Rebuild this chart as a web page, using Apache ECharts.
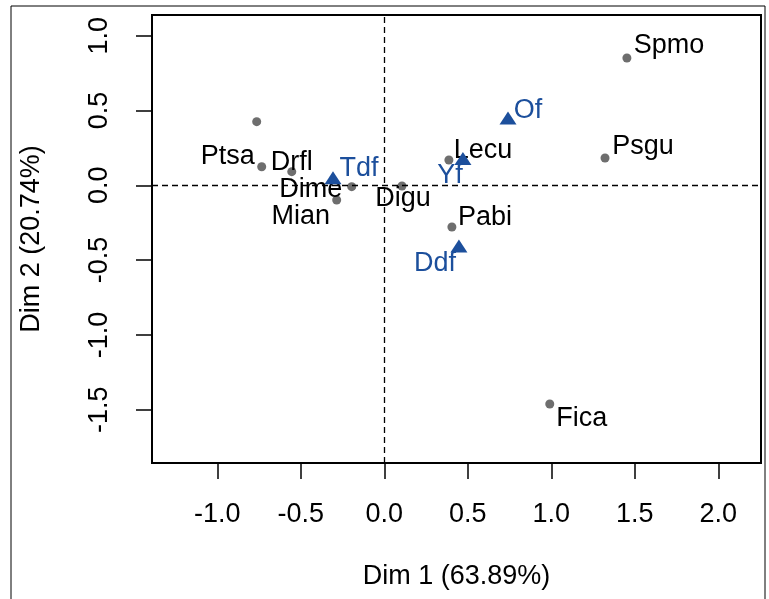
<!DOCTYPE html>
<html>
<head>
<meta charset="utf-8">
<title>CA biplot</title>
<script src="https://cdn.jsdelivr.net/npm/echarts@6.0.0/dist/echarts.min.js"></script>
<style>
html, body { margin: 0; padding: 0; background: #fff; }
#main { width: 769px; height: 599px; }
</style>
</head>
<body>
<div id="main"></div>
<script>
// species (grey dots)
var speciesNames = ['', 'Ptsa', 'Drfl', 'Dime', 'Mian', 'Digu', 'Lecu', 'Spmo', 'Psgu', 'Pabi', 'Fica'];
var speciesX = [-0.764, -0.734, -0.554, -0.195, -0.285, 0.106, 0.387, 1.453, 1.322, 0.405, 0.991];
var speciesY = [0.425, 0.124, 0.091, -0.009, -0.098, -0.005, 0.169, 0.851, 0.182, -0.279, -1.462];

// sites (blue triangles)
var siteNames = ['Tdf', 'Yf', 'Of', 'Ddf'];
var siteX = [-0.307, 0.471, 0.741, 0.447];
var siteY = [0.050, 0.179, 0.450, -0.406];

var xTicks = [-1.0, -0.5, 0.0, 0.5, 1.0, 1.5, 2.0];
var yTicks = [-1.5, -1.0, -0.5, 0.0, 0.5, 1.0];

// label placement relative to the point (px)
var labelOffset = {
  'Ptsa': [-34, -10], 'Drfl': [0, -9], 'Dime': [-41, 3], 'Mian': [-36, 17],
  'Digu': [1, 13], 'Lecu': [34, -9], 'Spmo': [42, -12], 'Psgu': [38, -12],
  'Pabi': [33, -9], 'Fica': [32, 15],
  'Tdf': [26, -9], 'Yf': [-13, 17], 'Of': [20, -7], 'Ddf': [-24, 18]
};

var FONT = 'Liberation Sans, Arial, sans-serif';
var blue = '#1c4f9c';

function build(names, xs, ys) {
  return names.map(function (n, i) {
    var off = labelOffset[n] || [0, 0];
    return {
      name: n,
      value: [xs[i], ys[i]],
      label: { offset: off }
    };
  });
}

var chart = echarts.init(document.getElementById('main'));

function axisCommon(ticks) {
  return {
    type: 'value',
    splitLine: { show: false },
    axisLine: { show: false, onZero: false },
    axisTick: {
      show: true, inside: false, length: 16, customValues: ticks,
      lineStyle: { color: '#000', width: 1.5 }
    },
    axisLabel: {
      customValues: ticks,
      color: '#000', fontFamily: FONT, fontSize: 27,
      formatter: function (v) { return v.toFixed(1); }
    },
    nameLocation: 'middle',
    nameTextStyle: { color: '#000', fontFamily: FONT, fontSize: 27 }
  };
}

var xAxis = axisCommon(xTicks);
xAxis.min = -1.391; xAxis.max = 2.256;
xAxis.name = 'Dim 1 (63.89%)';
xAxis.nameGap = 100;
xAxis.axisLabel.margin = 38;

var yAxis = axisCommon(yTicks);
yAxis.min = -1.856; yAxis.max = 1.138;
yAxis.name = 'Dim 2 (20.74%)';
yAxis.nameGap = 107;
yAxis.axisLabel.margin = 39;
yAxis.axisLabel.rotate = 90;

var option = {
  animation: false,
  backgroundColor: '#fff',
  grid: {
    left: 152, top: 15, width: 609, height: 448,
    show: true, borderColor: '#000', borderWidth: 2
  },
  xAxis: xAxis,
  yAxis: yAxis,
  graphic: [{
    type: 'rect', silent: true,
    shape: { x: 11, y: 6, width: 754, height: 640 },
    style: { fill: 'none', stroke: '#000', lineWidth: 1 }
  }],
  series: [
    {
      type: 'scatter',
      symbol: 'circle',
      symbolSize: 9,
      itemStyle: { color: '#6e6e6e', opacity: 1 },
      label: {
        show: true, position: 'inside',
        formatter: '{b}', color: '#000',
        fontFamily: FONT, fontSize: 27
      },
      data: build(speciesNames, speciesX, speciesY),
      markLine: {
        silent: true, symbol: 'none',
        label: { show: false },
        lineStyle: { color: '#000', type: [6, 4], width: 1.3, opacity: 1 },
        data: [{ xAxis: 0 }, { yAxis: 0 }]
      },
      z: 3
    },
    {
      type: 'scatter',
      symbol: 'triangle',
      symbolSize: [17, 13],
      itemStyle: { color: blue, opacity: 1 },
      label: {
        show: true, position: 'inside',
        formatter: '{b}', color: blue,
        fontFamily: FONT, fontSize: 27
      },
      data: build(siteNames, siteX, siteY),
      z: 4
    }
  ]
};

chart.setOption(option);
</script>
</body>
</html>
